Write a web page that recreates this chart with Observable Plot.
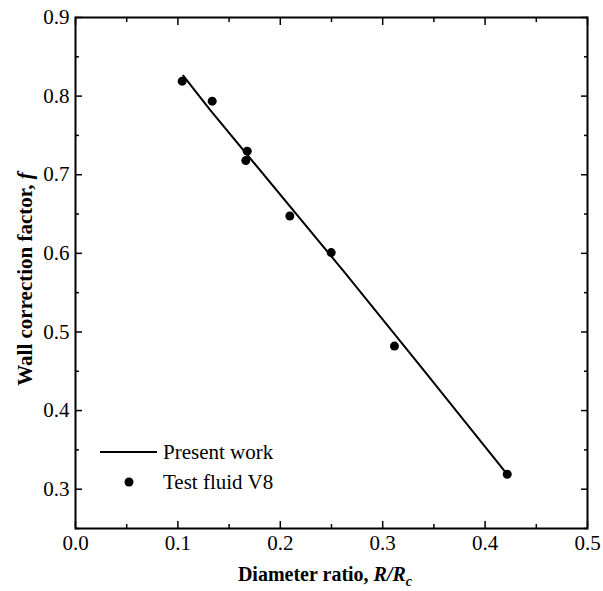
<!DOCTYPE html>
<html>
<head>
<meta charset="utf-8">
<script src="https://cdn.jsdelivr.net/npm/d3@7"></script>
<script src="https://cdn.jsdelivr.net/npm/@observablehq/plot@0.6"></script>
<style>
  html, body { margin: 0; padding: 0; background: #fff; }
  #chart svg { display: block; }
  #chart svg text, #chart svg tspan { font-family: "Liberation Serif", "Times New Roman", serif !important; }
</style>
</head>
<body>
<div id="chart"></div>
<script>
// Measured data points (Test fluid V8)
const dataX = [0.1042, 0.1335, 0.1677, 0.1663, 0.2093, 0.2497, 0.3115, 0.4216];
const dataY = [0.819, 0.7936, 0.730, 0.718, 0.6475, 0.601, 0.482, 0.319];
// Present work (model curve)
const lineX = [0.1052, 0.1318, 0.2620, 0.3386, 0.4222];
const lineY = [0.826, 0.782, 0.577, 0.4536, 0.318];
// Axes
const xTicks = [0.0, 0.1, 0.2, 0.3, 0.4, 0.5];
const xMinor = [0.05, 0.15, 0.25, 0.35, 0.45];
const yTicks = [0.3, 0.4, 0.5, 0.6, 0.7, 0.8, 0.9];
const yMinor = [0.25, 0.35, 0.45, 0.55, 0.65, 0.75, 0.85];
const legendLabels = ["Present work", "Test fluid V8"];

const points = dataX.map((x, i) => ({x, y: dataY[i]}));
const curve = lineX.map((x, i) => ({x, y: lineY[i]}));

const font = "'Liberation Serif', 'Times New Roman', serif";

const plot = Plot.plot({
  width: 603,
  height: 591,
  marginLeft: 75,
  marginRight: 16,
  marginTop: 17,
  marginBottom: 63,
  style: {fontFamily: font, fontSize: "21px", color: "#000", background: "#fff"},
  x: {domain: [0, 0.5]},
  y: {domain: [0.25, 0.9]},
  marks: [
    Plot.frame({stroke: "#000", strokeWidth: 2}),
    Plot.axisX({anchor: "bottom", ticks: xTicks, tickSize: -7, tickPadding: 14, tickFormat: d3.format(".1f"), label: null, strokeWidth: 1.5, fontSize: 21}),
    Plot.axisX({anchor: "bottom", ticks: xMinor, tickSize: -4, tickFormat: () => "", label: null, strokeWidth: 1.5}),
    Plot.axisX({anchor: "top", ticks: xTicks, tickSize: -7, tickFormat: () => "", label: null, strokeWidth: 1.5}),
    Plot.axisX({anchor: "top", ticks: xMinor, tickSize: -4, tickFormat: () => "", label: null, strokeWidth: 1.5}),
    Plot.axisY({anchor: "left", ticks: yTicks, tickSize: -7, tickPadding: 13, tickFormat: d3.format(".1f"), label: null, strokeWidth: 1.5, fontSize: 21}),
    Plot.axisY({anchor: "left", ticks: yMinor, tickSize: -4, tickFormat: () => "", label: null, strokeWidth: 1.5}),
    Plot.axisY({anchor: "right", ticks: yTicks, tickSize: -7, tickFormat: () => "", label: null, strokeWidth: 1.5}),
    Plot.axisY({anchor: "right", ticks: yMinor, tickSize: -4, tickFormat: () => "", label: null, strokeWidth: 1.5}),
    Plot.line(curve, {x: "x", y: "y", stroke: "#000", strokeWidth: 2}),
    Plot.dot(points, {x: "x", y: "y", r: 4.5, fill: "#000", stroke: "none"})
  ]
});

document.getElementById("chart").appendChild(plot);

const svg = d3.select(plot);
// Axis titles
const xt = svg.append("text")
  .attr("x", 325).attr("y", 581)
  .attr("text-anchor", "middle")
  .style("font-size", "20px").style("font-weight", "bold");
xt.append("tspan").text("Diameter ratio, ");
xt.append("tspan").style("font-style", "italic").text("R/R");
xt.append("tspan").style("font-style", "italic").style("font-size", "14px").attr("dy", 5).text("c");

const yt = svg.append("text")
  .attr("transform", "translate(32,279) rotate(-90)")
  .attr("text-anchor", "middle")
  .style("font-size", "21px").style("font-weight", "bold");
yt.append("tspan").text("Wall correction factor, ");
yt.append("tspan").style("font-style", "italic").text("f");

// Legend
const lg = svg.append("g").attr("text-anchor", "start").style("font-size", "21px");
lg.append("line").attr("x1", 100).attr("x2", 157).attr("y1", 452).attr("y2", 452)
  .attr("stroke", "#000").attr("stroke-width", 2);
lg.append("text").attr("x", 163).attr("y", 459).attr("text-anchor", "start").text(legendLabels[0]);
lg.append("circle").attr("cx", 129).attr("cy", 482).attr("r", 4.5).attr("fill", "#000");
lg.append("text").attr("x", 163).attr("y", 489).attr("text-anchor", "start").text(legendLabels[1]);
</script>
</body>
</html>
